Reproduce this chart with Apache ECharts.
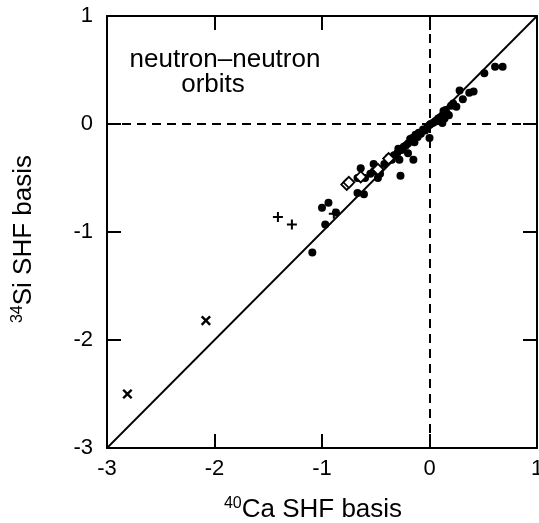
<!DOCTYPE html>
<html>
<head>
<meta charset="utf-8">
<script src="https://cdn.jsdelivr.net/npm/echarts@6/dist/echarts.min.js"></script>
<style>
html,body{margin:0;padding:0;background:#fff;}
#chart{width:539px;height:523px;}
</style>
</head>
<body>
<div id="chart"></div>
<script>
// axis range and ticks
var axisMin = -3, axisMax = 1, tickStep = 1;

// filled circles (40Ca basis, 34Si basis)
var filledPts = [
  [0.68,0.53],[0.61,0.53],[0.51,0.47],[0.41,0.30],[0.37,0.29],[0.31,0.23],[0.28,0.31],
  [0.25,0.16],[0.22,0.19],[0.20,0.17],[0.18,0.08],[0.15,0.13],[0.16,0.10],[0.13,0.12],
  [0.10,0.06],[0.12,0.01],[0.14,0.05],[0.08,0.05],[0.06,0.03],[0.05,0.02],[0.03,0.01],
  [0.01,0.00],[0.00,-0.01],[-0.02,-0.03],[0.00,-0.13],[-0.04,-0.06],[-0.06,-0.05],
  [-0.08,-0.09],[-0.10,-0.08],[-0.11,-0.12],[-0.13,-0.10],[-0.14,-0.17],[-0.16,-0.13],
  [-0.18,-0.14],[-0.20,-0.18],[-0.22,-0.20],[-0.15,-0.33],[-0.20,-0.27],[-0.24,-0.21],
  [-0.26,-0.24],[-0.28,-0.33],[-0.29,-0.23],[-0.30,-0.27],[-0.33,-0.29],[-0.27,-0.48],
  [-0.35,-0.33],[-0.38,-0.31],[-0.42,-0.37],[-0.46,-0.46],[-0.48,-0.50],[-0.52,-0.37],
  [-0.52,-0.44],[-0.55,-0.46],[-0.60,-0.50],[-0.64,-0.41],[-0.67,-0.50],[-0.61,-0.65],
  [-0.67,-0.64],[-0.87,-0.82],[-0.97,-0.93],[-1.00,-0.775],[-0.94,-0.73],[-1.09,-1.19]
];
// open diamonds
var diamondPts = [[-0.77,-0.56],[-0.75,-0.54],[-0.64,-0.49],[-0.48,-0.42],[-0.38,-0.32]];
// plus signs
var plusPts = [[-1.41,-0.86],[-1.28,-0.93],[-0.89,-0.83]];
// crosses
var crossPts = [[-2.81,-2.50],[-2.08,-1.82]];
// y = x reference
var diagPts = [[-3,-3],[1,1]];

var plusPath = 'path://M4,0H6V4H10V6H6V10H4V6H0V4H4Z';
var fnt = 'Liberation Sans, Arial, sans-serif';

function makeAxis(pos, showLabel){
  return {
    type:'value', position:pos, min:axisMin, max:axisMax, interval:tickStep,
    axisLine:{show:true, onZero:false, lineStyle:{color:'#000', width:2}},
    axisTick:{show:true, inside:true, length:14, lineStyle:{color:'#000', width:2}},
    axisLabel:{show:showLabel, color:'#000', fontSize:22, fontFamily:fnt, margin:(pos=='bottom'?10:14)},
    splitLine:{show:false}
  };
}

var titleRich = {
  s:{fontSize:16, fontFamily:fnt, fill:'#000', verticalAlign:'top', lineHeight:28},
  m:{fontSize:26, fontFamily:fnt, fill:'#000', lineHeight:28}
};

var chart = echarts.init(document.getElementById('chart'));
chart.setOption({
  animation:false,
  grid:{left:107, top:16, width:430, height:432, outerBoundsMode:'none', containLabel:false},
  xAxis:[makeAxis('bottom', true), makeAxis('top', false)],
  yAxis:[makeAxis('left', true), makeAxis('right', false)],
  series:[
    {
      type:'line', data:diagPts, symbol:'none', silent:true,
      lineStyle:{color:'#000', width:1.8},
      markLine:{
        silent:true, symbol:'none', label:{show:false},
        lineStyle:{color:'#000', width:2, type:[9,6]},
        data:[{xAxis:0},{yAxis:0}]
      }
    },
    {
      type:'scatter', data:filledPts, symbol:'circle', symbolSize:8,
      itemStyle:{color:'#000', opacity:1}
    },
    {
      type:'scatter', data:diamondPts, symbol:'diamond', symbolSize:11,
      itemStyle:{color:'#fff', borderColor:'#000', borderWidth:1.8, opacity:1}
    },
    {
      type:'scatter', data:plusPts, symbol:plusPath, symbolSize:10,
      itemStyle:{color:'#000', opacity:1}
    },
    {
      type:'scatter', data:crossPts, symbol:plusPath, symbolSize:12, symbolRotate:45,
      itemStyle:{color:'#000', opacity:1}
    }
  ],
  graphic:[
    {
      type:'text', x:225, y:60,
      style:{text:'neutron\u2013neutron', font:'26px '+fnt, fill:'#000', align:'center', verticalAlign:'middle'}
    },
    {
      type:'text', x:213, y:85,
      style:{text:'orbits', font:'26px '+fnt, fill:'#000', align:'center', verticalAlign:'middle'}
    },
    {
      type:'text', x:313, y:510,
      style:{text:'{s|40}{m|Ca SHF basis}', rich:titleRich, align:'center', verticalAlign:'middle'}
    },
    {
      type:'text', x:24, y:239, rotation:Math.PI/2,
      style:{text:'{s|34}{m|Si SHF basis}', rich:titleRich, align:'center', verticalAlign:'middle'}
    }
  ]
});
</script>
</body>
</html>
